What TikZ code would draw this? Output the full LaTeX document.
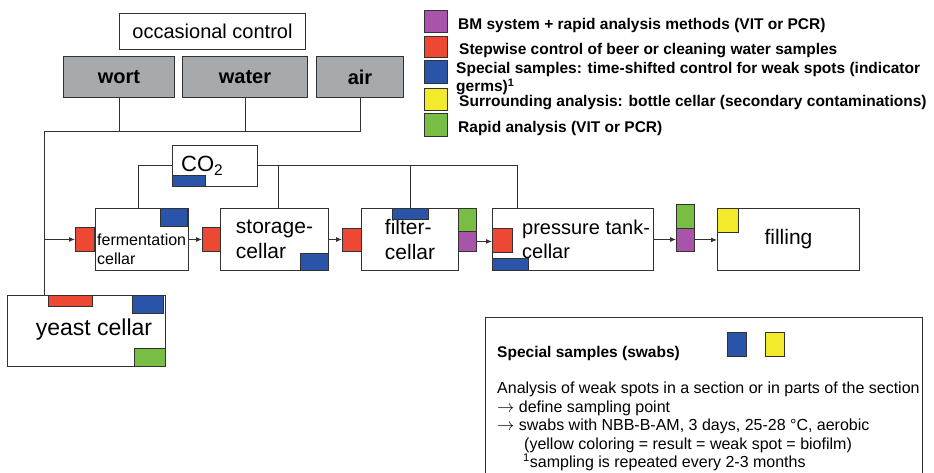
\documentclass[tikz,border=0pt]{standalone}
\usepackage{fontspec}
\setmainfont{Liberation Sans}
\usetikzlibrary{arrows.meta,positioning}
\definecolor{ink}{RGB}{50,50,50}
\definecolor{srcgrey}{RGB}{167,170,172}
\definecolor{bmpurple}{RGB}{168,84,170}
\definecolor{stepred}{RGB}{236,72,52}
\definecolor{swabblue}{RGB}{42,84,168}
\definecolor{envyellow}{RGB}{242,234,42}
\definecolor{rapidgreen}{RGB}{120,190,68}
\newcommand{\fsz}[2]{\fontsize{#1}{#2}\selectfont}
\tikzset{
  stage/.style={draw=ink,line width=1pt,fill=white,anchor=north west,inner sep=0pt,
    align=left,font=\fsz{21}{25}},
  src/.style={stage,fill=srcgrey,align=center,font=\fsz{20}{24}\bfseries},
  tag/.style={draw=ink,line width=0.9pt,fill=#1,anchor=north west,inner sep=0pt},
  key/.style={anchor=west,inner sep=0pt,align=left,font=\fsz{15.5}{18}\bfseries},
  note/.style={anchor=west,inner sep=0pt,align=left,font=\fsz{16}{18.5}},
  flow/.style={-{Latex[length=6pt,width=5pt]},line width=1pt,draw=ink},
  pipe/.style={line width=1pt,draw=ink},
}

\begin{document}
\begin{tikzpicture}[x=1pt,y=-1pt]
\useasboundingbox (0,0) rectangle (934,473);
% sources, occasional control
\node[stage,minimum width=186,minimum height=36,align=center,font=\fsz{20}{24}] (occ) at (119,13) {occasional control};
\node[src,minimum width=111,minimum height=41] (wort) at (63,56) {wort};
\node[src,minimum width=125,minimum height=41] (water) at (182,56) {water};
\node[src,minimum width=87,minimum height=41] (air) at (316,56) {air};
\coordinate (bus) at (44,132);

% process line
\node[stage,minimum width=85,minimum height=41] (co2) at (172,145) {};
\node[anchor=west,inner sep=0pt,font=\fsz{22}{26}] (co2txt) at (181,166) {CO\textsubscript{2}};
\node[stage,minimum width=93,minimum height=62] (ferm) at (95,208) {};
\node[note,font=\fsz{16}{19}] (fermtxt) at (97,249) {fermentation\\cellar};
\node[stage,minimum width=108,minimum height=62] (store) at (220,208) {storage-\\cellar};
\node[stage,minimum width=97,minimum height=62] (filt) at (361,208) {filter-\\cellar};
\node[stage,minimum width=161,minimum height=62] (ptank) at (492,208) {};
\node[anchor=west,inner sep=0pt,align=left,font=\fsz{20}{24}] (ptanktxt) at (522,239) {pressure tank-\\cellar};
\node[stage,minimum width=142,minimum height=62,align=center] (fill) at (717,208) {filling};
\node[stage,minimum width=158,minimum height=71] (yeast) at (7,295) {};
\node[inner sep=0pt,font=\fsz{23}{27}] (yeasttxt) at (94,330) {yeast cellar};

% sampling tags
\node[tag=stepred,minimum width=19,minimum height=24] (red1) at (75,227) {};
\node[tag=swabblue,minimum width=27,minimum height=18] (fermblue) at (160,208) {};
\node[tag=stepred,minimum width=18,minimum height=24] (red2) at (202,227) {};
\node[tag=swabblue,minimum width=28,minimum height=17] (storeblue) at (300,253) {};
\node[tag=stepred,minimum width=19,minimum height=23] (red3) at (342,228) {};
\node[tag=swabblue,minimum width=36,minimum height=11] (filtblue) at (392,208) {};
\node[tag=rapidgreen,minimum width=18,minimum height=23] (filtgreen) at (458,208) {};
\node[tag=bmpurple,minimum width=18,minimum height=20] (filtpurple) at (458,231) {};
\node[tag=stepred,minimum width=20,minimum height=24] (red4) at (492,228) {};
\node[tag=swabblue,minimum width=36,minimum height=12] (ptankblue) at (492,258) {};
\node[tag=rapidgreen,minimum width=18,minimum height=24] (green2) at (676,204) {};
\node[tag=bmpurple,minimum width=18,minimum height=23] (purple2) at (676,228) {};
\node[tag=envyellow,minimum width=21,minimum height=24] (fillyellow) at (717,208) {};
\node[tag=swabblue,minimum width=33,minimum height=11] (co2blue) at (172,175) {};
\node[tag=stepred,minimum width=44,minimum height=11] (yeastred) at (48,295) {};
\node[tag=swabblue,minimum width=31,minimum height=18] (yeastblue) at (132,295) {};
\node[tag=rapidgreen,minimum width=31,minimum height=18] (yeastgreen) at (134,348) {};

% connections
\draw[pipe] (wort.south) -- (wort.south |- bus);
\draw[pipe] (water.south) -- (water.south |- bus);
\draw[pipe] (air.south) |- (bus) -- (bus |- yeast.north);
\draw[flow] (bus |- red1.west) -- (red1.west);
\draw[pipe] (co2.west) -| ([xshift=-4]ferm.north);
\draw[pipe] (co2.east) -| ([xshift=25]ptank.north west);
\draw[pipe] ([xshift=4]store.north) -- ([xshift=4]store.north |- co2.east);
\draw[pipe] (filt.north) -- (filt.north |- co2.east);
\draw[flow] (ferm.east) -- (ferm.east -| red2.west);
\draw[flow] (store.east) -- (store.east -| red3.west);
\draw[flow] (filtpurple.east) -- (filtpurple.east -| ptank.west);
\draw[flow] (ptank.east) -- (ptank.east -| purple2.west);
\draw[flow] (purple2.east) -- (purple2.east -| fill.west);

% legend
\node[tag=bmpurple,minimum width=23,minimum height=22] (kbm) at (424,10) {};
\node[tag=stepred,minimum width=23,minimum height=21] (kstep) at (424,36) {};
\node[tag=swabblue,minimum width=23,minimum height=23] (kswab) at (424,60) {};
\node[tag=envyellow,minimum width=23,minimum height=22] (kenv) at (424,88) {};
\node[tag=rapidgreen,minimum width=23,minimum height=23] (krapid) at (424,113) {};
\node[key] (kbmtxt) at (458,25) {BM system + rapid analysis methods (VIT or PCR)};
\node[key] (ksteptxt) at (459,51) {Stepwise control of beer or cleaning water samples};
\node[key] (kswabtxt) at (456,79) {Special samples: time-shifted control for weak spots (indicator\\germs)\textsuperscript{1}};
\node[key] (kenvtxt) at (459,103) {Surrounding analysis: bottle cellar (secondary contaminations)};
\node[key] (krapidtxt) at (458,128) {Rapid analysis (VIT or PCR)};

% swabs
\draw[pipe] (485,473) -- (485,317) -- (922,317) -- (922,473);
\node[key] (swabhead) at (497,353) {Special samples (swabs)};
\node[tag=swabblue,minimum width=19,minimum height=24] (swabkblue) at (727,332) {};
\node[tag=envyellow,minimum width=19,minimum height=24] (swabkyellow) at (765,332) {};
\node[note,anchor=north west] (swabnote) at (497,382) {Analysis of weak spots in a section or in parts of the section\\
$\rightarrow$ define sampling point\\
$\rightarrow$ swabs with NBB-B-AM, 3 days, 25-28 °C, aerobic\\
\hspace*{27pt}(yellow coloring = result = weak spot = biofilm)\\
\hspace*{26pt}\textsuperscript{1}sampling is repeated every 2-3 months};
\end{tikzpicture}
\end{document}
